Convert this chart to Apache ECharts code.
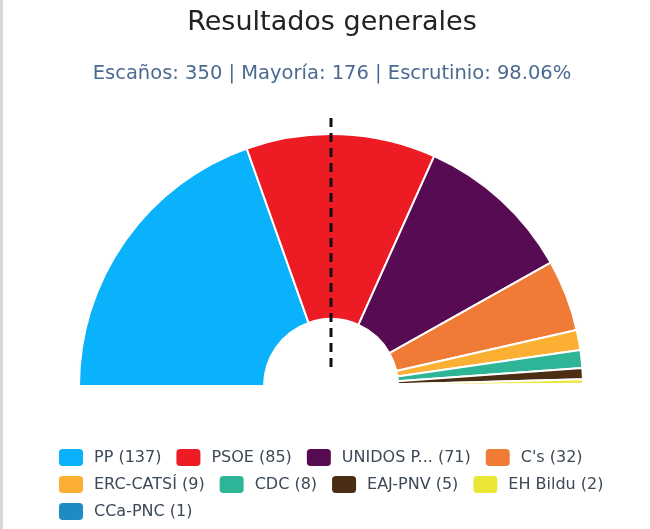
<!DOCTYPE html>
<html>
<head>
<meta charset="utf-8">
<script src="https://cdn.jsdelivr.net/npm/echarts@6/dist/echarts.min.js"></script>
<style>
  html, body { margin: 0; padding: 0; background: #fff; }
  #wrap { position: relative; width: 650px; height: 529px; }
  #edge { position: absolute; left: 0; top: 0; width: 3px; height: 529px; background: #d9d9d9; }
  #main { position: absolute; left: 0; top: 0; width: 650px; height: 529px; }
</style>
</head>
<body>
<div id="wrap">
  <div id="main"></div>
  <div id="edge"></div>
</div>
<script>
// datos del escrutinio
var partidos = ["PP", "PSOE", "UNIDOS PODEMOS", "C's", "ERC-CATSÍ", "CDC", "EAJ-PNV", "EH Bildu", "CCa-PNC"];
var escanos = [137, 85, 71, 32, 9, 8, 5, 2, 1];
var colores = ["#0ab1fb", "#ec1b24", "#560b52", "#ef7b36", "#fbb034", "#2eb598", "#4a2d12", "#e9e635", "#1e8bc3"];
var totalEscanos = 350;
var mayoria = 176;
var escrutinio = "98.06%";

var cx = 331, cy = 386;

var chart = echarts.init(document.getElementById("main"));

var datos = partidos.map(function (p, i) {
  return { name: p, value: escanos[i], itemStyle: { color: colores[i] } };
});

var option = {
  backgroundColor: "#fff",
  animation: false,
  title: {
    text: "Resultados generales",
    subtext: "Escaños: " + totalEscanos + " | Mayoría: " + mayoria + " | Escrutinio: " + escrutinio,
    left: 327,
    textAlign: "center",
    top: 4,
    itemGap: 28,
    textStyle: {
      fontFamily: "DejaVu Sans",
      fontSize: 27,
      fontWeight: "normal",
      color: "#222"
    },
    subtextStyle: {
      fontFamily: "DejaVu Sans",
      fontSize: 19.5,
      color: "#4b6a90"
    }
  },
  legend: {
    left: 57,
    top: 447,
    right: 15,
    padding: 0,
    itemWidth: 26,
    itemHeight: 19,
    itemGap: 6,
    icon: "roundRect",
    textStyle: {
      fontFamily: "DejaVu Sans",
      fontSize: 16,
      lineHeight: 19,
      color: "#3c4858",
      padding: [0, 7, 0, 5]
    },
    formatter: function (name) {
      var i = partidos.indexOf(name);
      var n = name.length > 10 ? name.slice(0, 8) + "..." : name;
      return n + " (" + escanos[i] + ")";
    },
    data: partidos
  },
  graphic: [
    {
      // linea de mayoria
      type: "line",
      z: 100,
      shape: { x1: cx, y1: 118, x2: cx, y2: 372 },
      style: { stroke: "#111", lineWidth: 3, lineDash: [9, 6] }
    }
  ],
  series: [
    {
      type: "pie",
      center: [cx, cy],
      radius: [67, 252],
      startAngle: 180,
      endAngle: 360,
      label: { show: false },
      labelLine: { show: false },
      emphasis: { disabled: true },
      itemStyle: { borderColor: "#fff", borderWidth: 2 },
      data: datos
    }
  ]
};

chart.setOption(option);
</script>
</body>
</html>
